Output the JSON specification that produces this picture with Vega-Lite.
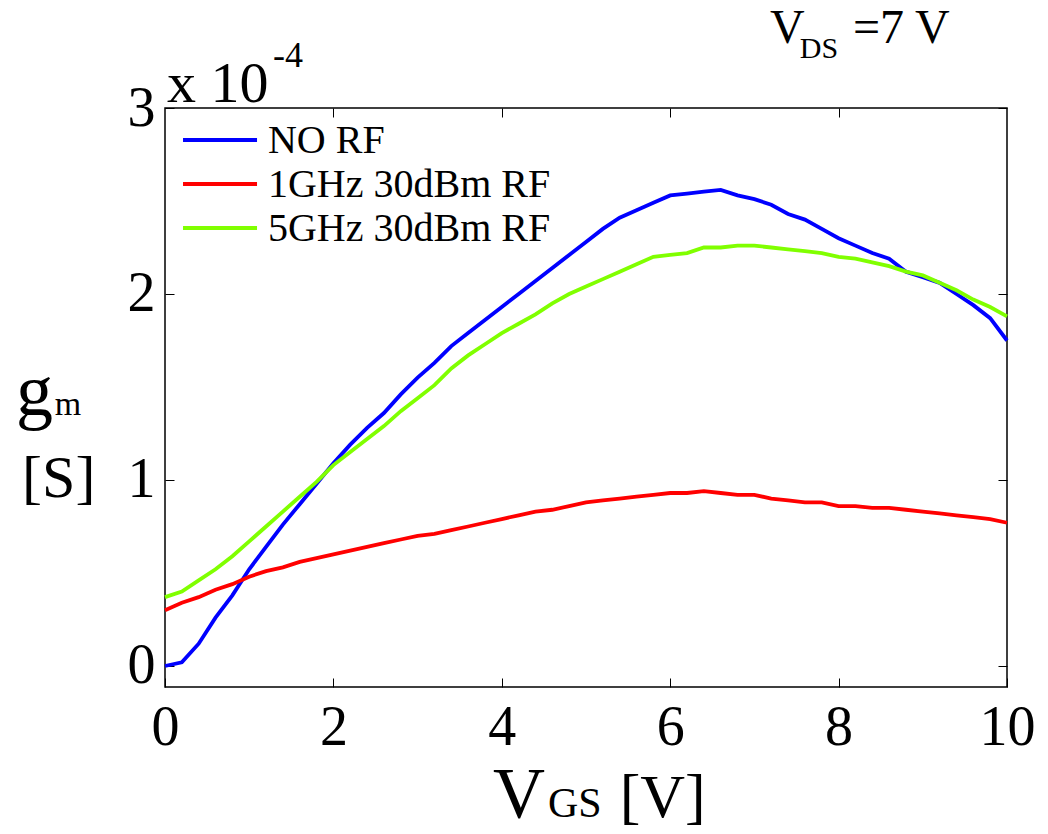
{
  "$schema": "https://vega.github.io/schema/vega-lite/v6.json",
  "width": 842,
  "height": 579,
  "autosize": "none",
  "padding": {"left": 165, "top": 108, "right": 41, "bottom": 147},
  "background": "white",
  "config": {
    "view": {"stroke": "black", "strokeWidth": 1.5},
    "font": "Liberation Serif",
    "text": {"font": "Liberation Serif", "color": "black", "align": "left", "baseline": "alphabetic"},
    "axis": {"grid": false, "domain": false, "tickColor": "black", "tickWidth": 1, "labelColor": "black", "labelFont": "Liberation Serif", "title": null}
  },
  "datasets": {
    "curves": [
      {"v":0.0,"g":0.00,"s":"NO RF"},{"v":0.2,"g":0.02,"s":"NO RF"},{"v":0.4,"g":0.12,"s":"NO RF"},{"v":0.6,"g":0.26,"s":"NO RF"},{"v":0.8,"g":0.38,"s":"NO RF"},
      {"v":1.0,"g":0.52,"s":"NO RF"},{"v":1.2,"g":0.64,"s":"NO RF"},{"v":1.4,"g":0.76,"s":"NO RF"},{"v":1.6,"g":0.87,"s":"NO RF"},{"v":1.8,"g":0.98,"s":"NO RF"},
      {"v":2.0,"g":1.09,"s":"NO RF"},{"v":2.2,"g":1.19,"s":"NO RF"},{"v":2.4,"g":1.28,"s":"NO RF"},{"v":2.6,"g":1.36,"s":"NO RF"},{"v":2.8,"g":1.46,"s":"NO RF"},
      {"v":3.0,"g":1.55,"s":"NO RF"},{"v":3.2,"g":1.63,"s":"NO RF"},{"v":3.4,"g":1.72,"s":"NO RF"},{"v":3.6,"g":1.79,"s":"NO RF"},{"v":3.8,"g":1.86,"s":"NO RF"},
      {"v":4.0,"g":1.93,"s":"NO RF"},{"v":4.2,"g":2.00,"s":"NO RF"},{"v":4.4,"g":2.07,"s":"NO RF"},{"v":4.6,"g":2.14,"s":"NO RF"},{"v":4.8,"g":2.21,"s":"NO RF"},
      {"v":5.0,"g":2.28,"s":"NO RF"},{"v":5.2,"g":2.35,"s":"NO RF"},{"v":5.4,"g":2.41,"s":"NO RF"},{"v":5.6,"g":2.45,"s":"NO RF"},{"v":5.8,"g":2.49,"s":"NO RF"},
      {"v":6.0,"g":2.53,"s":"NO RF"},{"v":6.2,"g":2.54,"s":"NO RF"},{"v":6.4,"g":2.55,"s":"NO RF"},{"v":6.6,"g":2.56,"s":"NO RF"},{"v":6.8,"g":2.53,"s":"NO RF"},
      {"v":7.0,"g":2.51,"s":"NO RF"},{"v":7.2,"g":2.48,"s":"NO RF"},{"v":7.4,"g":2.43,"s":"NO RF"},{"v":7.6,"g":2.40,"s":"NO RF"},{"v":7.8,"g":2.35,"s":"NO RF"},
      {"v":8.0,"g":2.30,"s":"NO RF"},{"v":8.2,"g":2.26,"s":"NO RF"},{"v":8.4,"g":2.22,"s":"NO RF"},{"v":8.6,"g":2.19,"s":"NO RF"},{"v":8.8,"g":2.12,"s":"NO RF"},
      {"v":9.0,"g":2.09,"s":"NO RF"},{"v":9.2,"g":2.06,"s":"NO RF"},{"v":9.4,"g":2.00,"s":"NO RF"},{"v":9.6,"g":1.94,"s":"NO RF"},{"v":9.8,"g":1.87,"s":"NO RF"},
      {"v":10.0,"g":1.75,"s":"NO RF"},

      {"v":0.0,"g":0.30,"s":"1GHz 30dBm RF"},{"v":0.2,"g":0.34,"s":"1GHz 30dBm RF"},{"v":0.4,"g":0.37,"s":"1GHz 30dBm RF"},{"v":0.6,"g":0.41,"s":"1GHz 30dBm RF"},{"v":0.8,"g":0.44,"s":"1GHz 30dBm RF"},
      {"v":1.0,"g":0.48,"s":"1GHz 30dBm RF"},{"v":1.2,"g":0.51,"s":"1GHz 30dBm RF"},{"v":1.4,"g":0.53,"s":"1GHz 30dBm RF"},{"v":1.6,"g":0.56,"s":"1GHz 30dBm RF"},{"v":1.8,"g":0.58,"s":"1GHz 30dBm RF"},
      {"v":2.0,"g":0.60,"s":"1GHz 30dBm RF"},{"v":2.2,"g":0.62,"s":"1GHz 30dBm RF"},{"v":2.4,"g":0.64,"s":"1GHz 30dBm RF"},{"v":2.6,"g":0.66,"s":"1GHz 30dBm RF"},{"v":2.8,"g":0.68,"s":"1GHz 30dBm RF"},
      {"v":3.0,"g":0.70,"s":"1GHz 30dBm RF"},{"v":3.2,"g":0.71,"s":"1GHz 30dBm RF"},{"v":3.4,"g":0.73,"s":"1GHz 30dBm RF"},{"v":3.6,"g":0.75,"s":"1GHz 30dBm RF"},{"v":3.8,"g":0.77,"s":"1GHz 30dBm RF"},
      {"v":4.0,"g":0.79,"s":"1GHz 30dBm RF"},{"v":4.2,"g":0.81,"s":"1GHz 30dBm RF"},{"v":4.4,"g":0.83,"s":"1GHz 30dBm RF"},{"v":4.6,"g":0.84,"s":"1GHz 30dBm RF"},{"v":4.8,"g":0.86,"s":"1GHz 30dBm RF"},
      {"v":5.0,"g":0.88,"s":"1GHz 30dBm RF"},{"v":5.2,"g":0.89,"s":"1GHz 30dBm RF"},{"v":5.4,"g":0.90,"s":"1GHz 30dBm RF"},{"v":5.6,"g":0.91,"s":"1GHz 30dBm RF"},{"v":5.8,"g":0.92,"s":"1GHz 30dBm RF"},
      {"v":6.0,"g":0.93,"s":"1GHz 30dBm RF"},{"v":6.2,"g":0.93,"s":"1GHz 30dBm RF"},{"v":6.4,"g":0.94,"s":"1GHz 30dBm RF"},{"v":6.6,"g":0.93,"s":"1GHz 30dBm RF"},{"v":6.8,"g":0.92,"s":"1GHz 30dBm RF"},
      {"v":7.0,"g":0.92,"s":"1GHz 30dBm RF"},{"v":7.2,"g":0.90,"s":"1GHz 30dBm RF"},{"v":7.4,"g":0.89,"s":"1GHz 30dBm RF"},{"v":7.6,"g":0.88,"s":"1GHz 30dBm RF"},{"v":7.8,"g":0.88,"s":"1GHz 30dBm RF"},
      {"v":8.0,"g":0.86,"s":"1GHz 30dBm RF"},{"v":8.2,"g":0.86,"s":"1GHz 30dBm RF"},{"v":8.4,"g":0.85,"s":"1GHz 30dBm RF"},{"v":8.6,"g":0.85,"s":"1GHz 30dBm RF"},{"v":8.8,"g":0.84,"s":"1GHz 30dBm RF"},
      {"v":9.0,"g":0.83,"s":"1GHz 30dBm RF"},{"v":9.2,"g":0.82,"s":"1GHz 30dBm RF"},{"v":9.4,"g":0.81,"s":"1GHz 30dBm RF"},{"v":9.6,"g":0.80,"s":"1GHz 30dBm RF"},{"v":9.8,"g":0.79,"s":"1GHz 30dBm RF"},
      {"v":10.0,"g":0.77,"s":"1GHz 30dBm RF"},

      {"v":0.0,"g":0.37,"s":"5GHz 30dBm RF"},{"v":0.2,"g":0.40,"s":"5GHz 30dBm RF"},{"v":0.4,"g":0.46,"s":"5GHz 30dBm RF"},{"v":0.6,"g":0.52,"s":"5GHz 30dBm RF"},{"v":0.8,"g":0.59,"s":"5GHz 30dBm RF"},
      {"v":1.0,"g":0.67,"s":"5GHz 30dBm RF"},{"v":1.2,"g":0.75,"s":"5GHz 30dBm RF"},{"v":1.4,"g":0.83,"s":"5GHz 30dBm RF"},{"v":1.6,"g":0.91,"s":"5GHz 30dBm RF"},{"v":1.8,"g":0.99,"s":"5GHz 30dBm RF"},
      {"v":2.0,"g":1.08,"s":"5GHz 30dBm RF"},{"v":2.2,"g":1.15,"s":"5GHz 30dBm RF"},{"v":2.4,"g":1.22,"s":"5GHz 30dBm RF"},{"v":2.6,"g":1.29,"s":"5GHz 30dBm RF"},{"v":2.8,"g":1.37,"s":"5GHz 30dBm RF"},
      {"v":3.0,"g":1.44,"s":"5GHz 30dBm RF"},{"v":3.2,"g":1.51,"s":"5GHz 30dBm RF"},{"v":3.4,"g":1.60,"s":"5GHz 30dBm RF"},{"v":3.6,"g":1.67,"s":"5GHz 30dBm RF"},{"v":3.8,"g":1.73,"s":"5GHz 30dBm RF"},
      {"v":4.0,"g":1.79,"s":"5GHz 30dBm RF"},{"v":4.2,"g":1.84,"s":"5GHz 30dBm RF"},{"v":4.4,"g":1.89,"s":"5GHz 30dBm RF"},{"v":4.6,"g":1.95,"s":"5GHz 30dBm RF"},{"v":4.8,"g":2.00,"s":"5GHz 30dBm RF"},
      {"v":5.0,"g":2.04,"s":"5GHz 30dBm RF"},{"v":5.2,"g":2.08,"s":"5GHz 30dBm RF"},{"v":5.4,"g":2.12,"s":"5GHz 30dBm RF"},{"v":5.6,"g":2.16,"s":"5GHz 30dBm RF"},{"v":5.8,"g":2.20,"s":"5GHz 30dBm RF"},
      {"v":6.0,"g":2.21,"s":"5GHz 30dBm RF"},{"v":6.2,"g":2.22,"s":"5GHz 30dBm RF"},{"v":6.4,"g":2.25,"s":"5GHz 30dBm RF"},{"v":6.6,"g":2.25,"s":"5GHz 30dBm RF"},{"v":6.8,"g":2.26,"s":"5GHz 30dBm RF"},
      {"v":7.0,"g":2.26,"s":"5GHz 30dBm RF"},{"v":7.2,"g":2.25,"s":"5GHz 30dBm RF"},{"v":7.4,"g":2.24,"s":"5GHz 30dBm RF"},{"v":7.6,"g":2.23,"s":"5GHz 30dBm RF"},{"v":7.8,"g":2.22,"s":"5GHz 30dBm RF"},
      {"v":8.0,"g":2.20,"s":"5GHz 30dBm RF"},{"v":8.2,"g":2.19,"s":"5GHz 30dBm RF"},{"v":8.4,"g":2.17,"s":"5GHz 30dBm RF"},{"v":8.6,"g":2.15,"s":"5GHz 30dBm RF"},{"v":8.8,"g":2.12,"s":"5GHz 30dBm RF"},
      {"v":9.0,"g":2.10,"s":"5GHz 30dBm RF"},{"v":9.2,"g":2.06,"s":"5GHz 30dBm RF"},{"v":9.4,"g":2.02,"s":"5GHz 30dBm RF"},{"v":9.6,"g":1.97,"s":"5GHz 30dBm RF"},{"v":9.8,"g":1.93,"s":"5GHz 30dBm RF"},
      {"v":10.0,"g":1.88,"s":"5GHz 30dBm RF"}
    ]
  },
  "resolve": {"axis": {"x": "independent", "y": "independent"}},
  "layer": [
    {
      "data": {"name": "curves"},
      "mark": {"type": "line", "strokeWidth": 3.8},
      "encoding": {
        "x": {"field": "v", "type": "quantitative", "scale": {"domain": [0, 10], "nice": false, "zero": false},
              "axis": {"orient": "bottom", "values": [0, 2, 4, 6, 8, 10], "tickSize": -9, "labelPadding": 22, "labelFontSize": 56, "labelFlush": false, "labelOverlap": false}},
        "y": {"field": "g", "type": "quantitative", "scale": {"domain": [-0.113, 3], "nice": false, "zero": false},
              "axis": {"orient": "left", "values": [0, 1, 2, 3], "tickSize": -9, "labelPadding": 19, "labelFontSize": 56, "labelBaseline": "middle", "labelFlush": false, "labelOverlap": false}},
        "color": {"field": "s", "type": "nominal", "legend": null,
                  "scale": {"domain": ["NO RF", "1GHz 30dBm RF", "5GHz 30dBm RF"], "range": ["#0000ff", "#ff0000", "#80ff00"]}}
      }
    },
    {
      "data": {"name": "curves"},
      "mark": {"type": "line", "strokeOpacity": 0},
      "encoding": {
        "x": {"field": "v", "type": "quantitative", "axis": {"orient": "top", "values": [2, 4, 6, 8], "tickSize": -9, "labels": false}},
        "y": {"field": "g", "type": "quantitative", "axis": {"orient": "right", "values": [0, 1, 2, 3], "tickSize": -9, "labels": false}}
      }
    },
    {
      "data": {"values": [{}]},
      "mark": {"type": "rule", "color": "#0000ff", "strokeWidth": 4},
      "encoding": {"x": {"datum": 0.214, "axis": null}, "x2": {"datum": 1.093}, "y": {"datum": 2.828, "axis": null}}
    },
    {
      "data": {"values": [{}]},
      "mark": {"type": "rule", "color": "#ff0000", "strokeWidth": 4},
      "encoding": {"x": {"datum": 0.214, "axis": null}, "x2": {"datum": 1.093}, "y": {"datum": 2.591, "axis": null}}
    },
    {
      "data": {"values": [{}]},
      "mark": {"type": "rule", "color": "#80ff00", "strokeWidth": 4},
      "encoding": {"x": {"datum": 0.214, "axis": null}, "x2": {"datum": 1.093}, "y": {"datum": 2.355, "axis": null}}
    },
    {
      "data": {"values": [{}]},
      "mark": {"type": "text", "fontSize": 40, "text": "NO RF"},
      "encoding": {"x": {"datum": 1.223, "axis": null}, "y": {"datum": 2.758, "axis": null}}
    },
    {
      "data": {"values": [{}]},
      "mark": {"type": "text", "fontSize": 40, "text": "1GHz 30dBm RF"},
      "encoding": {"x": {"datum": 1.223, "axis": null}, "y": {"datum": 2.52, "axis": null}}
    },
    {
      "data": {"values": [{}]},
      "mark": {"type": "text", "fontSize": 40, "text": "5GHz 30dBm RF"},
      "encoding": {"x": {"datum": 1.223, "axis": null}, "y": {"datum": 2.285, "axis": null}}
    },
    {
      "data": {"values": [{}]},
      "mark": {"type": "text", "fontSize": 58, "text": "x 10"},
      "encoding": {"x": {"datum": 0.024, "axis": null}, "y": {"datum": 3.032, "axis": null}}
    },
    {
      "data": {"values": [{}]},
      "mark": {"type": "text", "fontSize": 36, "text": "-4"},
      "encoding": {"x": {"datum": 1.283, "axis": null}, "y": {"datum": 3.22, "axis": null}}
    },
    {
      "data": {"values": [{}]},
      "mark": {"type": "text", "fontSize": 48, "text": "V"},
      "encoding": {"x": {"datum": 7.185, "axis": null}, "y": {"datum": 3.349, "axis": null}}
    },
    {
      "data": {"values": [{}]},
      "mark": {"type": "text", "fontSize": 30, "text": "DS"},
      "encoding": {"x": {"datum": 7.54, "axis": null}, "y": {"datum": 3.269, "axis": null}}
    },
    {
      "data": {"values": [{}]},
      "mark": {"type": "text", "fontSize": 48, "text": "=7 V"},
      "encoding": {"x": {"datum": 8.17, "axis": null}, "y": {"datum": 3.349, "axis": null}}
    },
    {
      "data": {"values": [{}]},
      "mark": {"type": "text", "fontSize": 72, "text": "V"},
      "encoding": {"x": {"datum": 3.895, "axis": null}, "y": {"datum": -0.812, "axis": null}}
    },
    {
      "data": {"values": [{}]},
      "mark": {"type": "text", "fontSize": 42, "text": "GS"},
      "encoding": {"x": {"datum": 4.549, "axis": null}, "y": {"datum": -0.812, "axis": null}}
    },
    {
      "data": {"values": [{}]},
      "mark": {"type": "text", "fontSize": 62, "text": "[V]"},
      "encoding": {"x": {"datum": 5.40, "axis": null}, "y": {"datum": -0.812, "axis": null}}
    },
    {
      "data": {"values": [{}]},
      "mark": {"type": "text", "fontSize": 74, "text": "g"},
      "encoding": {"x": {"datum": -1.77, "axis": null}, "y": {"datum": 1.349, "axis": null}}
    },
    {
      "data": {"values": [{}]},
      "mark": {"type": "text", "fontSize": 34, "text": "m"},
      "encoding": {"x": {"datum": -1.31, "axis": null}, "y": {"datum": 1.349, "axis": null}}
    },
    {
      "data": {"values": [{}]},
      "mark": {"type": "text", "fontSize": 60, "text": "[S]"},
      "encoding": {"x": {"datum": -1.698, "axis": null}, "y": {"datum": 0.909, "axis": null}}
    }
  ]
}
